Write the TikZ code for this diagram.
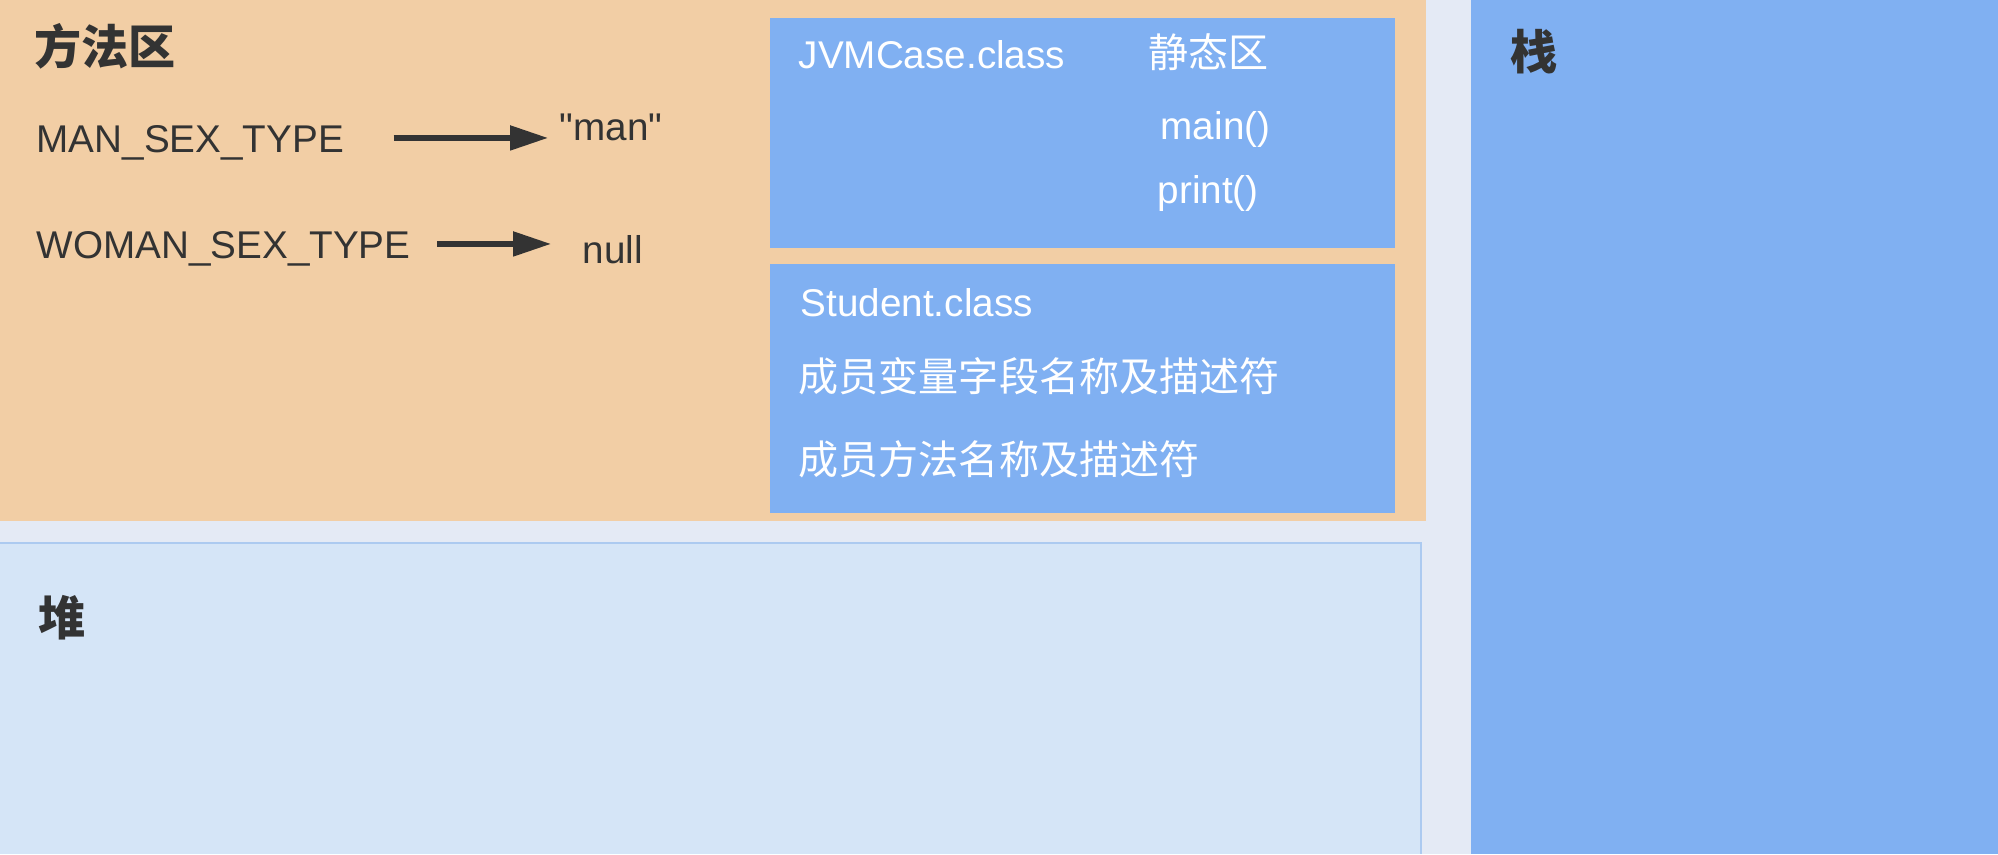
\documentclass[tikz,border=0pt]{standalone}
\usepackage{fontspec}
\setmainfont{Liberation Sans}
\newfontfamily\cjk{Noto Sans CJK SC}
\usetikzlibrary{arrows.meta,calc}

\definecolor{bgcol}{RGB}{228,234,245}
\definecolor{methodcol}{RGB}{242,206,165}
\definecolor{classcol}{RGB}{128,176,242}
\definecolor{heapcol}{RGB}{213,229,247}
\definecolor{heapedge}{RGB}{172,202,240}
\definecolor{txtdark}{RGB}{51,51,51}

\begin{document}
\begin{tikzpicture}[
  region/.style={inner sep=0, outer sep=0, anchor=north west},
  lbl/.style={anchor=base west, inner sep=0, text=txtdark, font=\fontsize{11}{13}\selectfont, text height=0.9em, text depth=0.1em},
  wlbl/.style={lbl, text=white},
  cjklbl/.style={anchor=west, inner sep=0, text=white, font=\cjk\fontsize{11.4}{14}\selectfont},
  title/.style={anchor=west, inner sep=0, text=txtdark, font=\cjk\bfseries\fontsize{13.4}{15}\selectfont},
  arr/.style={-{Triangle[length=3.8mm, width=2.4mm]}, line width=1.5pt, draw=txtdark}
]
  \useasboundingbox (0,0) rectangle (19.98,-8.54);
  \fill[bgcol] (0,0) rectangle (19.98,-8.54);

  \node[region, fill=methodcol, minimum width=14.26cm, minimum height=5.21cm] (method) at (0,0) {};
  \node[region, fill=heapcol, minimum width=14.21cm, minimum height=3.11cm] (heap) at (0,-5.43) {};
  \draw[heapedge, line width=0.8pt] (heap.north west) -- (heap.north east) -- (heap.south east);
  \node[region, fill=classcol, minimum width=5.27cm, minimum height=8.54cm] (stack) at (14.71,0) {};
  \node[region, fill=classcol, minimum width=6.25cm, minimum height=2.30cm] (jvm) at (7.70,-0.18) {};
  \node[region, fill=classcol, minimum width=6.25cm, minimum height=2.49cm] (student) at (7.70,-2.64) {};

  \node[title] (methodtitle) at (0.34,-0.46) {方法区};
  \node[title] (stacktitle) at (15.10,-0.52) {栈};
  \node[title] (heaptitle) at (0.38,-6.18) {堆};

  \node[lbl] (mantype) at (0.36,-1.52) {MAN\_SEX\_TYPE};
  \node[lbl] (manval) at (5.59,-1.40) {\textquotedbl man\textquotedbl};
  \node[lbl] (womantype) at (0.36,-2.58) {WOMAN\_SEX\_TYPE};
  \node[lbl] (womanval) at (5.82,-2.63) {null};

  \node[wlbl] (jvmname) at (7.98,-0.68) {JVMCase.class};
  \node[cjklbl] (static) at (11.48,-0.52) {静态区};
  \node[wlbl] (mainm) at (11.60,-1.39) {main()};
  \node[wlbl] (printm) at (11.57,-2.03) {print()};

  \node[wlbl] (stuname) at (8.00,-3.16) {Student.class};
  \node[cjklbl] (fields) at (7.98,-3.76) {成员变量字段名称及描述符};
  \node[cjklbl] (methods) at (7.98,-4.59) {成员方法名称及描述符};

  \draw[arr] ([xshift=4.9mm]mantype.east) -- ($(mantype.east -| manval.west)+(-0.11,0)$);
  \draw[arr] ([xshift=2.6mm]womantype.east) -- ($(womantype.east -| womanval.west)+(-0.31,0)$);
\end{tikzpicture}
\end{document}
